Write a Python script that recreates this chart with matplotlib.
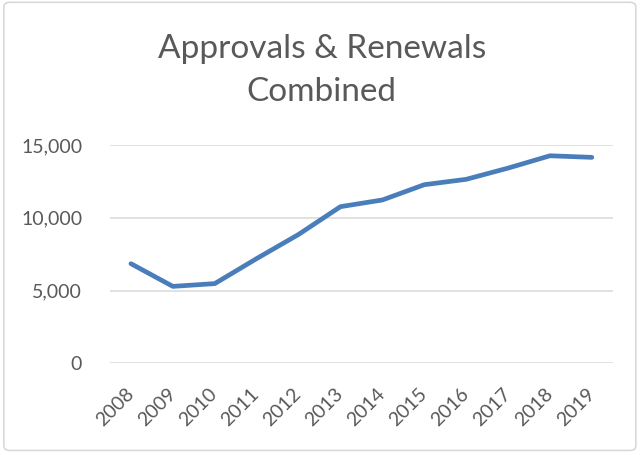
import matplotlib.pyplot as plt
from matplotlib.patches import FancyBboxPatch
from matplotlib.ticker import FuncFormatter

years = ['2008', '2009', '2010', '2011', '2012', '2013',
         '2014', '2015', '2016', '2017', '2018', '2019']
combined = [6850, 5290, 5480, 7200, 8860, 10770,
            11230, 12280, 12650, 13420, 14270, 14160]

plt.rcParams['font.family'] = ['Lato', 'DejaVu Sans']

fig = plt.figure(figsize=[6.41, 4.55], dpi=100)
ax = fig.add_axes([0.1716, 0.2015, 0.7844, 0.4795])

x = range(len(years))
ax.plot(x, combined, color='#4a7ebb', linewidth=3.4, solid_capstyle='round',
        solid_joinstyle='round', zorder=3)

ax.set_xlim(-0.5, len(years) - 0.5)
ax.set_ylim(0, 15000)
ax.set_yticks([0, 5000, 10000, 15000])
ax.yaxis.set_major_formatter(FuncFormatter(lambda v, p: f'{int(v):,}'))
ax.set_xticks(list(x))
ax.set_xticklabels(years, rotation=45, ha='right', va='center',
                   rotation_mode='anchor')
ax.grid(axis='y', color='#d9d9d9', linewidth=1.1)
ax.set_axisbelow(True)
for s in ax.spines.values():
    s.set_visible(False)
ax.tick_params(axis='both', length=0, colors='#595959', labelsize=14)
ax.tick_params(axis='x', pad=20)
ax.tick_params(axis='y', pad=20)

fig.text(0.502, 0.845, 'Approvals & Renewals\nCombined', ha='center',
         va='center', fontsize=24, color='#595959', linespacing=1.55)

# chart frame
fig.patches.append(FancyBboxPatch((0.006, 0.01), 0.986, 0.985,
                                  boxstyle='round,pad=0,rounding_size=0.01',
                                  transform=fig.transFigure, fill=False,
                                  edgecolor='#d9d9d9', linewidth=1.2))

plt.savefig('out.png')
